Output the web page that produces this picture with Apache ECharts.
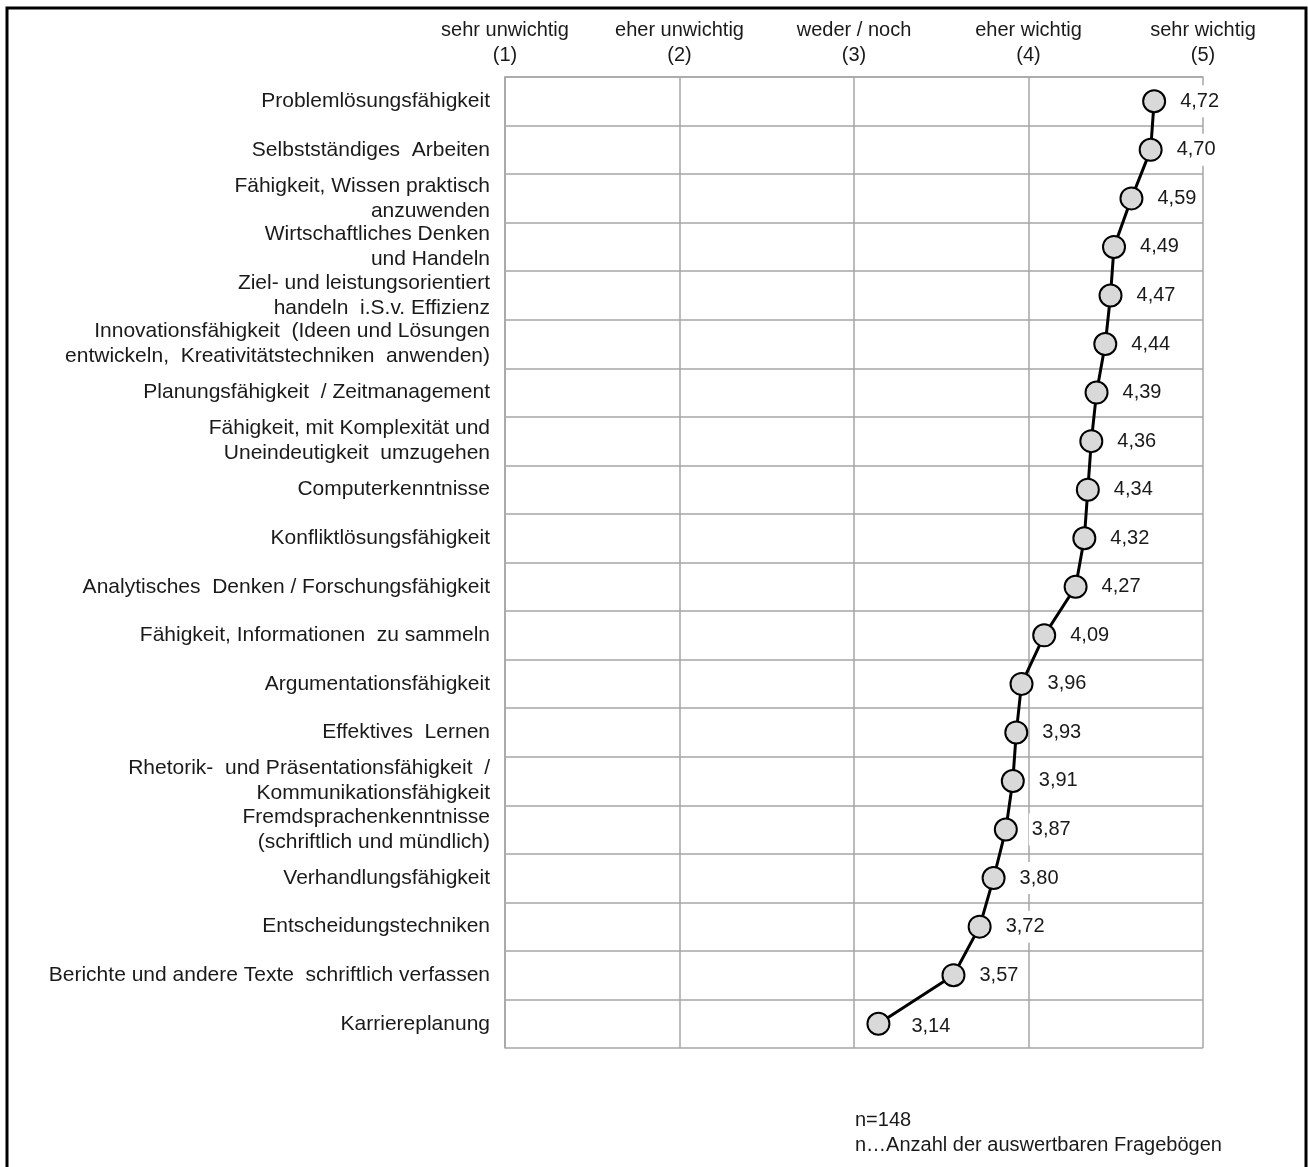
<!DOCTYPE html>
<html>
<head>
<meta charset="utf-8">
<script src="https://cdn.jsdelivr.net/npm/echarts@6/dist/echarts.min.js"></script>
<style>
html,body{margin:0;padding:0;background:#fff;}
#c{width:1308px;height:1167px;}
</style>
</head>
<body>
<div id="c"></div>
<script>
var categories = [
  "Problemlösungsfähigkeit",
  "Selbstständiges  Arbeiten",
  "Fähigkeit, Wissen praktisch\nanzuwenden",
  "Wirtschaftliches Denken\nund Handeln",
  "Ziel- und leistungsorientiert\nhandeln  i.S.v. Effizienz",
  "Innovationsfähigkeit  (Ideen und Lösungen\nentwickeln,  Kreativitätstechniken  anwenden)",
  "Planungsfähigkeit  / Zeitmanagement",
  "Fähigkeit, mit Komplexität und\nUneindeutigkeit  umzugehen",
  "Computerkenntnisse",
  "Konfliktlösungsfähigkeit",
  "Analytisches  Denken / Forschungsfähigkeit",
  "Fähigkeit, Informationen  zu sammeln",
  "Argumentationsfähigkeit",
  "Effektives  Lernen",
  "Rhetorik-  und Präsentationsfähigkeit  /\nKommunikationsfähigkeit",
  "Fremdsprachenkenntnisse\n(schriftlich und mündlich)",
  "Verhandlungsfähigkeit",
  "Entscheidungstechniken",
  "Berichte und andere Texte  schriftlich verfassen",
  "Karriereplanung"
];
var values = [4.72, 4.70, 4.59, 4.49, 4.47, 4.44, 4.39, 4.36, 4.34, 4.32, 4.27, 4.09, 3.96, 3.93, 3.91, 3.87, 3.80, 3.72, 3.57, 3.14];
var scaleLabels = {1: "sehr unwichtig\n(1)", 2: "eher unwichtig\n(2)", 3: "weder / noch\n(3)", 4: "eher wichtig\n(4)", 5: "sehr wichtig\n(5)"};
var footnotes = ["n=148", "n…Anzahl der auswertbaren Fragebögen"];

var FONT = "'Liberation Sans', Arial, sans-serif";
var TXT = "#1a1a1a";
var GRID = "#a6a6a6";

var seriesData = values.map(function (v, i) {
  var item = { value: v };
  if (i === values.length - 1) {
    item.label = { offset: [7, 3] };
  }
  return item;
});

var chart = echarts.init(document.getElementById('c'), null, { renderer: 'canvas' });
chart.setOption({
  animation: false,
  backgroundColor: '#fff',
  grid: { left: 505, right: 105, top: 77, bottom: 119, containLabel: false },
  xAxis: {
    type: 'value', position: 'top', min: 1, max: 5, interval: 1,
    axisLine: { show: true, lineStyle: { color: GRID, width: 1.5 } },
    axisTick: { show: false },
    splitLine: { show: true, lineStyle: { color: GRID, width: 1.5 } },
    axisLabel: {
      margin: 9, color: TXT, fontFamily: FONT, fontSize: 20, lineHeight: 25,
      formatter: function (v) { return scaleLabels[v] || ''; }
    }
  },
  yAxis: {
    type: 'category', inverse: true, data: categories, boundaryGap: true,
    axisLine: { show: true, lineStyle: { color: GRID, width: 1.5 } },
    axisTick: { show: false },
    splitLine: { show: true, lineStyle: { color: GRID, width: 1.5 } },
    axisLabel: {
      margin: 15, color: TXT, fontFamily: FONT, fontSize: 21, lineHeight: 25,
      align: 'right', interval: 0
    }
  },
  series: [{
    type: 'line',
    data: seriesData,
    symbol: 'circle',
    symbolSize: 22,
    lineStyle: { color: '#000', width: 3 },
    itemStyle: { color: '#d9d9d9', borderColor: '#000', borderWidth: 2 },
    label: {
      show: true, position: 'right', distance: 11,
      color: TXT, fontFamily: FONT, fontSize: 20,
      backgroundColor: '#fff', padding: [6, 3],
      formatter: function (p) { return p.value.toFixed(2).replace('.', ','); }
    },
    z: 5
  }],
  graphic: [
    {
      type: 'polyline',
      shape: { points: [[7, 1167], [7, 8], [1306, 8], [1306, 1167]] },
      style: { stroke: '#000', lineWidth: 3, fill: null },
      silent: true
    },
    {
      type: 'text', left: 855, top: 1110,
      style: { text: footnotes[0], fill: TXT, font: "20px 'Liberation Sans', Arial, sans-serif" }
    },
    {
      type: 'text', left: 855, top: 1135,
      style: { text: footnotes[1], fill: TXT, font: "20px 'Liberation Sans', Arial, sans-serif" }
    }
  ]
});
</script>
</body>
</html>
